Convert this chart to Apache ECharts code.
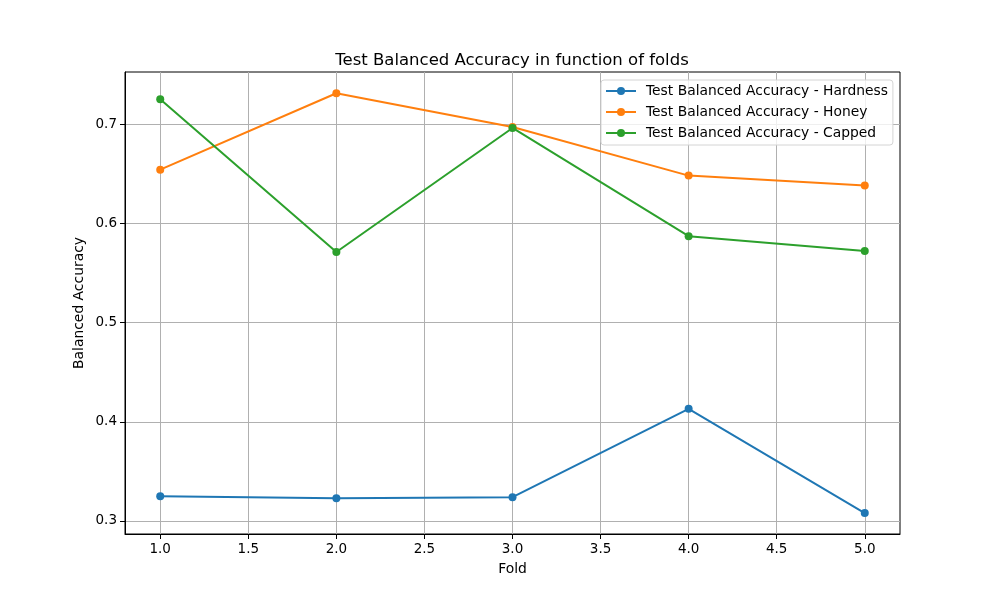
<!DOCTYPE html>
<html>
<head>
<meta charset="utf-8">
<script src="https://cdn.jsdelivr.net/npm/echarts@6/dist/echarts.min.js"></script>
<style>
  html, body { margin: 0; padding: 0; background: #fff; }
  #chart { width: 1000px; height: 600px; }
</style>
</head>
<body>
<div id="chart"></div>
<script>
// fold numbers on the x axis
const folds = [1, 2, 3, 4, 5];
// test balanced accuracy per fold
const hardness = [0.325, 0.323, 0.324, 0.413, 0.308];
const honey = [0.654, 0.731, 0.697, 0.648, 0.638];
const capped = [0.725, 0.571, 0.696, 0.587, 0.572];
// tick positions
const xTicks = [1.0, 1.5, 2.0, 2.5, 3.0, 3.5, 4.0, 4.5, 5.0];
const yTicks = [0.3, 0.4, 0.5, 0.6, 0.7];

const seriesNames = [
    'Test Balanced Accuracy - Hardness',
    'Test Balanced Accuracy - Honey',
    'Test Balanced Accuracy - Capped',
];
const colors = ['#1f77b4', '#ff7f0e', '#2ca02c'];

const font = 'DejaVu Sans';

/** 构造一条折线 */
const makeSeries = (name, values, color) => ({
    name: name,
    type: 'line',
    data: folds.map((f, i) => [f, values[i]]),
    symbol: 'circle',
    symbolSize: 8,
    itemStyle: { color: color },
    lineStyle: { color: color, width: 2 },
    emphasis: { disabled: true },
    animation: false,
});

const chart = echarts.init(document.getElementById('chart'));

const axisCommon = {
    axisLine: { show: true, onZero: false, lineStyle: { color: '#000', width: 1 } },
    axisTick: { show: true, length: 5, lineStyle: { color: '#000' } },
    splitLine: { show: true, lineStyle: { color: '#b0b0b0', width: 1 } },
    nameTextStyle: { fontFamily: font, fontSize: 13.9, color: '#000' },
    nameMoveOverlap: false,
};

chart.setOption({
    backgroundColor: '#fff',
    animation: false,
    title: {
        text: 'Test Balanced Accuracy in function of folds',
        left: 507,
        top: 47,
        textAlign: 'center',
        textStyle: { fontFamily: font, fontSize: 16.5, fontWeight: 'normal', color: '#000' },
    },
    grid: {
        left: 125, right: 100, top: 72, bottom: 66,
        show: true,
        borderColor: '#000',
        borderWidth: 1,
        containLabel: false,
    },
    legend: {
        data: seriesNames,
        orient: 'vertical',
        left: 601,
        top: 80,
        padding: [4, 5, 5, 4],
        itemWidth: 30,
        itemHeight: 10,
        itemGap: 7,
        backgroundColor: 'rgba(255,255,255,0.8)',
        borderColor: '#d4d4d4',
        borderWidth: 1,
        borderRadius: 3,
        textStyle: { fontFamily: font, fontSize: 13.85, color: '#000', padding: [0, 0, 0, 5] },
    },
    xAxis: {
        type: 'value',
        min: 0.8,
        max: 5.2,
        name: 'Fold',
        nameLocation: 'middle',
        nameGap: 28,
        ...axisCommon,
        axisTick: { ...axisCommon.axisTick, customValues: xTicks },
        axisLabel: {
            customValues: xTicks,
            formatter: (v) => v.toFixed(1),
            fontFamily: font, fontSize: 13.5, color: '#000', margin: 8,
        },
    },
    yAxis: {
        type: 'value',
        min: 0.2869,
        max: 0.7524,
        name: 'Balanced Accuracy',
        nameLocation: 'middle',
        nameGap: 39,
        ...axisCommon,
        axisTick: { ...axisCommon.axisTick, customValues: yTicks },
        axisLabel: {
            customValues: yTicks,
            formatter: (v) => v.toFixed(1),
            fontFamily: font, fontSize: 13.5, color: '#000', margin: 8,
        },
    },
    series: [
        makeSeries(seriesNames[0], hardness, colors[0]),
        makeSeries(seriesNames[1], honey, colors[1]),
        makeSeries(seriesNames[2], capped, colors[2]),
    ],
});
</script>
</body>
</html>
